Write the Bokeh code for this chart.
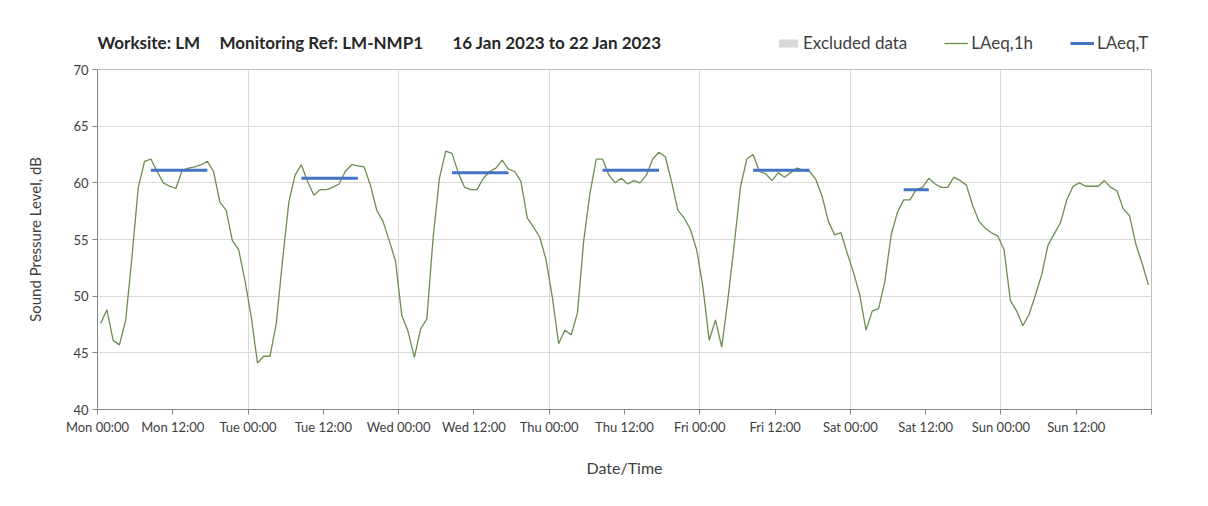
import numpy as np
from bokeh.plotting import figure
from bokeh.layouts import column
from bokeh.models import Label, Legend, LegendItem, FixedTicker, Range1d
from bokeh.embed import file_html
from bokeh.resources import INLINE

# ---------------- data ----------------
# hourly LAeq,1h values, Mon 00:00 .. Sun 23:00 (plotted at the middle of each hour)
laeq_mon = [47.6, 48.8, 46.1, 45.7, 47.9, 53.5, 59.6, 61.9, 62.1, 61.0, 60.0, 59.7,
            59.5, 61.1, 61.3, 61.4, 61.6, 61.9, 61.0, 58.3, 57.6, 54.9, 54.1, 51.4]
laeq_tue = [48.2, 44.1, 44.7, 44.7, 47.6, 53.2, 58.3, 60.7, 61.6, 60.1, 58.9, 59.4,
            59.4, 59.6, 59.9, 61.0, 61.6, 61.5, 61.4, 59.8, 57.6, 56.6, 54.9, 53.1]
laeq_wed = [48.3, 46.9, 44.6, 47.1, 48.0, 55.2, 60.4, 62.8, 62.6, 60.9, 59.6, 59.4,
            59.4, 60.4, 61.0, 61.3, 62.0, 61.2, 61.0, 60.1, 56.9, 56.1, 55.2, 53.2]
laeq_thu = [49.9, 45.8, 47.0, 46.6, 48.5, 54.9, 59.1, 62.1, 62.1, 60.7, 60.0, 60.4,
            59.9, 60.2, 60.0, 60.7, 62.1, 62.7, 62.3, 60.1, 57.6, 56.9, 55.9, 54.1]
laeq_fri = [50.8, 46.1, 47.9, 45.5, 49.8, 54.6, 59.7, 62.1, 62.5, 61.0, 60.8, 60.2,
            60.9, 60.5, 60.9, 61.3, 61.1, 61.0, 60.3, 58.8, 56.6, 55.4, 55.6, 53.8]
laeq_sat = [52.1, 50.1, 47.0, 48.7, 48.9, 51.3, 55.4, 57.4, 58.5, 58.5, 59.4, 59.6,
            60.4, 59.9, 59.6, 59.6, 60.5, 60.2, 59.8, 58.0, 56.6, 56.0, 55.6, 55.3]
laeq_sun = [54.1, 49.6, 48.7, 47.4, 48.4, 50.1, 51.9, 54.5, 55.5, 56.5, 58.5, 59.7,
            60.0, 59.7, 59.7, 59.7, 60.2, 59.6, 59.3, 57.7, 57.1, 54.6, 52.9, 51.0]

# LAeq,T period values (day index from Monday, period start/end hour, level)
laeqT_day = [0, 1, 2, 3, 4, 5]
laeqT_start_hour = [8, 8, 8, 8, 8, 8]
laeqT_end_hour = [18, 18, 18, 18, 18, 13]
laeqT_value = [61.1, 60.4, 60.9, 61.1, 61.1, 59.4]

tick_hours = list(range(0, 169, 12))
tick_labels = ["Mon 00:00", "Mon 12:00", "Tue 00:00", "Tue 12:00", "Wed 00:00",
               "Wed 12:00", "Thu 00:00", "Thu 12:00", "Fri 00:00", "Fri 12:00",
               "Sat 00:00", "Sat 12:00", "Sun 00:00", "Sun 12:00", ""]
y_ticks = [40, 45, 50, 55, 60, 65, 70]

title_parts = ["Worksite: LM", "Monitoring Ref: LM-NMP1", "16 Jan 2023 to 22 Jan 2023"]

# ---------------- build ----------------
laeq_1h = laeq_mon + laeq_tue + laeq_wed + laeq_thu + laeq_fri + laeq_sat + laeq_sun
hours = np.arange(len(laeq_1h)) + 0.5

seg_x0 = [d * 24 + s + 0.5 for d, s in zip(laeqT_day, laeqT_start_hour)]
seg_x1 = [d * 24 + e - 0.5 for d, e in zip(laeqT_day, laeqT_end_hour)]

FONT = "Lato"
AX = "#868686"
GRID = "#d9d9d9"
GREEN = "#6B8E4E"
BLUE = "#4472C4"
EXCL = "#d9d9d9"

W = 1200
HEAD_H = 58
LEFT, RIGHT = 97, 49

p = figure(width=W, height=440, output_backend="svg", toolbar_location=None,
           x_range=Range1d(0, 168), y_range=Range1d(40, 70),
           min_border_left=LEFT, min_border_right=RIGHT, min_border_top=11,
           min_border_bottom=89)
p.background_fill_color = "white"
p.border_fill_color = "white"
p.outline_line_color = "#bfbfbf"

# axes
p.xaxis.ticker = FixedTicker(ticks=tick_hours)
p.xaxis.major_label_overrides = {h: l for h, l in zip(tick_hours, tick_labels)}
p.yaxis.ticker = FixedTicker(ticks=y_ticks)
p.xgrid.ticker = FixedTicker(ticks=list(range(0, 169, 24)))
for ax in (p.xaxis, p.yaxis):
    ax.axis_line_color = AX
    ax.major_tick_line_color = AX
    ax.minor_tick_line_color = None
    ax.major_tick_in = 0
    ax.major_tick_out = 5
    ax.major_label_text_font = FONT
    ax.major_label_text_font_size = "13px"
    ax.major_label_text_color = "#404040"
    ax.axis_label_text_font = FONT
    ax.axis_label_text_font_style = "normal"
    ax.axis_label_text_color = "#404040"
p.xaxis.axis_label = "Date/Time"
p.xaxis.axis_label_text_font_size = "16px"
p.xaxis.major_label_standoff = 4
p.xaxis.axis_label_standoff = 20
p.yaxis.axis_label = "Sound Pressure Level, dB"
p.yaxis.axis_label_text_font_size = "15px"
p.yaxis.major_label_standoff = 4
p.yaxis.axis_label_standoff = 26

p.xgrid.grid_line_color = GRID
p.ygrid.grid_line_color = GRID

# glyphs
p.line(hours, laeq_1h, line_color=GREEN, line_width=1.3)
p.segment(x0=seg_x0, y0=laeqT_value, x1=seg_x1, y1=laeqT_value,
          line_color=BLUE, line_width=3)

# header strip holding the title and the legend (its frame is aligned with p's frame)
head = figure(width=W, height=HEAD_H, output_backend="svg", toolbar_location=None,
              x_range=Range1d(LEFT, W - RIGHT), y_range=Range1d(0, HEAD_H),
              x_axis_type=None, y_axis_type=None,
              min_border_left=LEFT, min_border_right=RIGHT,
              min_border_top=0, min_border_bottom=0)
head.outline_line_color = None
head.grid.visible = False
head.background_fill_color = "white"
head.border_fill_color = "white"

for txt, xpx in zip(title_parts, [97, 219, 452]):
    head.add_layout(Label(x=xpx, y=16, text=txt, text_font=FONT, text_font_style="bold",
                          text_font_size="17px", text_baseline="middle",
                          text_color="#262626"))

# legend swatches (placeholder renderers with no drawable data, styled like the series)
nan = [float("nan")]
l_ex = head.quad(left=nan, right=nan, top=nan, bottom=nan, fill_color=EXCL, line_color=None)
l_1h = head.line(x=nan, y=nan, line_color=GREEN, line_width=1.3)
l_T = head.line(x=nan, y=nan, line_color=BLUE, line_width=3)

legend = Legend(items=[LegendItem(label="Excluded data", renderers=[l_ex]),
                       LegendItem(label="LAeq,1h", renderers=[l_1h]),
                       LegendItem(label="LAeq,T", renderers=[l_T])],
                orientation="horizontal", location=(776 - LEFT, 5),
                border_line_color=None, background_fill_alpha=0,
                padding=0, margin=0, spacing=37, glyph_width=24, glyph_height=10,
                label_standoff=3, label_height=20,
                label_text_font=FONT, label_text_font_size="17px",
                label_text_color="#404040")
head.add_layout(legend)

layout = column(head, p, spacing=0)
open("out.html", "w").write(file_html(layout, INLINE))
